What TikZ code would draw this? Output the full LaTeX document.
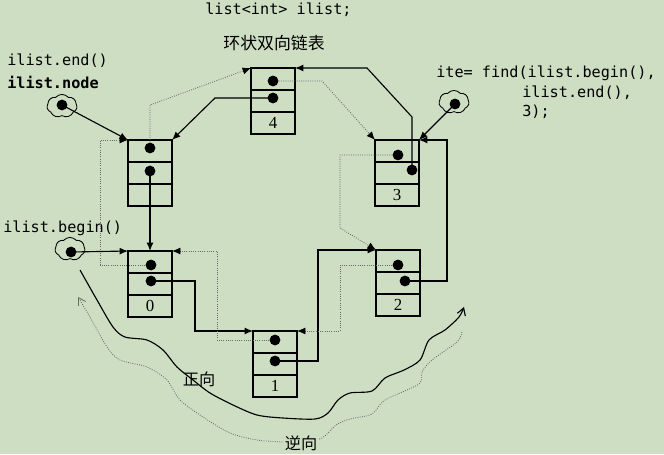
\documentclass[tikz,border=0pt]{standalone}
\usepackage{fontspec}
\setmainfont{Liberation Serif}
\setmonofont{DejaVu Sans Mono}
\newfontfamily\cjk{Noto Sans CJK SC}
\usepackage{xcolor}
\definecolor{lnbg}{RGB}{206,222,195}
\definecolor{lngray}{RGB}{105,105,105}
\usepackage{tikz}
\usetikzlibrary{arrows.meta, positioning, shapes.symbols}

\tikzset{
  cell/.style={draw, line width=0.8pt, minimum width=1.1cm, minimum height=0.55cm,
               inner sep=0pt, outer sep=0pt, font=\fontsize{12}{12}\selectfont},
  ptrdot/.style={circle, fill=black, inner sep=0pt, minimum size=0.27cm},
  ptrcloud/.style={cloud, draw, cloud puffs=7, cloud puff arc=100, aspect=1.3,
                   minimum width=0.75cm, minimum height=0.58cm, inner sep=0pt,
                   line width=0.6pt},
  nextptr/.style={line width=0.8pt, -{Latex[length=6pt,width=5pt]}},
  prevptr/.style={lngray, densely dotted, line width=0.6pt,
                  -{Latex[length=6pt,width=5pt,color=black,fill=black]}},
  codetxt/.style={font=\fontsize{10.8}{13}\ttfamily, anchor=west, inner sep=0pt},
  cjktxt/.style={font=\fontsize{12}{14}\cjk, inner sep=1pt}
}

\begin{document}
\begin{tikzpicture}[x=0.025cm, y=-0.025cm]
  \useasboundingbox (0,0) rectangle (664,454);
  \fill[lnbg] (0,0) rectangle (664,454);

  % Header
  \node[codetxt] (decl) at (205,10) {list<int> ilist;};
  \node[cjktxt] (title) at (274,43) {环状双向链表};

  % Iterator texts
  \node[codetxt] (endtxt) at (7,61) {ilist.end()};
  \node[codetxt, font=\fontsize{10.8}{13}\ttfamily\bfseries] (nodetxt) at (7,82) {ilist.node};
  \node[codetxt] (begtxt) at (3,228) {ilist.begin()};
  \node[codetxt] (findtxt) at (436,73) {ite= find(ilist.begin(),};
  \node[codetxt] (findtxtb) at (522,93) {ilist.end(),};
  \node[codetxt] (findtxtc) at (522,112) {3);};

  % Blank node (end)
  \node[cell, anchor=north west] (ea) at (128,140) {};
  \node[cell, below=0pt of ea] (eb) {};
  \node[cell, below=0pt of eb] (ec) {};

  % Node 4
  \node[cell, anchor=north west] (n4a) at (251,68) {};
  \node[cell, below=0pt of n4a] (n4b) {};
  \node[cell, below=0pt of n4b] (n4c) {4};

  % Node 3
  \node[cell, anchor=north west] (n3a) at (375,140) {};
  \node[cell, below=0pt of n3a] (n3b) {};
  \node[cell, below=0pt of n3b] (n3c) {3};

  % Node 0
  \node[cell, anchor=north west] (n0a) at (128,251) {};
  \node[cell, below=0pt of n0a] (n0b) {};
  \node[cell, below=0pt of n0b] (n0c) {0};

  % Node 1
  \node[cell, anchor=north west] (n1a) at (253,331) {};
  \node[cell, below=0pt of n1a] (n1b) {};
  \node[cell, below=0pt of n1b] (n1c) {1};

  % Node 2
  \node[cell, anchor=north west] (n2a) at (376,250) {};
  \node[cell, below=0pt of n2a] (n2b) {};
  \node[cell, below=0pt of n2b] (n2c) {2};

  % Pointer dots
  \node[ptrdot] (ed1) at (150,148) {};
  \node[ptrdot] (ed2) at (150,171) {};
  \node[ptrdot] (n4d1) at (273,81) {};
  \node[ptrdot] (n4d2) at (273,98) {};
  \node[ptrdot] (n3d1) at (398,155) {};
  \node[ptrdot] (n3d2) at (412,170) {};
  \node[ptrdot] (n0d1) at (151,265) {};
  \node[ptrdot] (n0d2) at (151,281) {};
  \node[ptrdot] (n1d1) at (275,340) {};
  \node[ptrdot] (n1d2) at (275,361) {};
  \node[ptrdot] (n2d1) at (398,265) {};
  \node[ptrdot] (n2d2) at (405,281) {};

  % Next pointers
  \draw[nextptr] (ed2.center) -- (ed2.center |- n0a.north);
  \draw[nextptr] (n0d2.center) -- (195,281) |- (n1a.north west);
  \draw[nextptr] (n1d2.center) -- (318,361) |- (n2a.north west);
  \draw[nextptr] (n2d2.center) -- (447,281) |- (n3a.north east);
  \draw[nextptr] (n3d2.center) -- (412,117) -- (367,68) -- (n4a.north east);
  \draw[nextptr] (n4d2.center) -- (215,98) -- (ea.north east);

  % Prev pointers
  \draw[prevptr] (ed1) -- (150,105) -- (n4a.north west);
  \draw[prevptr] (n4d1) -- (322,81) -- (n3a.north west);
  \draw[prevptr] (n3d1) -- (340,155) -- (340,228) -- (n2a.north west);
  \draw[prevptr] (n2d1) -- (340,265) |- (n1a.north east);
  \draw[prevptr] (n1d1) -- (217,340) |- (n0a.north east);
  \draw[prevptr] (n0d1) -- (100,265) |- (ea.north west);

  % Iterator clouds
  \node[ptrcloud] (cend) at (62,106) {};
  \node[ptrdot] (cendd) at (62,105) {};
  \node[ptrcloud] (cbeg) at (70,249) {};
  \node[ptrdot] (cbegd) at (71,252) {};
  \node[ptrcloud] (cite) at (454,102) {};
  \node[ptrdot] (cited) at (455,104) {};
  \draw[nextptr] (cendd.center) -- (ea.north west);
  \draw[nextptr] (cbegd.center) -- (n0a.north west);
  \draw[nextptr] (cited.center) -- (n3a.north east);

  % Traversal directions
  \draw[line width=0.8pt, -{Straight Barb[length=5pt,width=6pt]}]
       plot[smooth, tension=0.5] coordinates {(80,270) (97,300) (113,327) (125,337)
       (147,340) (163,350) (177,367) (193,380) (210,393) (233,405) (257,415) (283,418)
       (315,419) (328,413) (338,400) (350,393) (372,391) (385,378) (404,370) (420,360)
       (429,340) (445,330) (459,317) (464,307)};
  \draw[lngray, densely dotted, line width=0.6pt, -{Straight Barb[length=5pt,width=6pt]}]
       plot[smooth, tension=0.5] coordinates {(462,332) (457,342) (432,360) (422,372)
       (419,384) (385,400) (372,414) (350,419) (336,425) (322,438) (301,443) (283,442)
       (257,440) (230,433) (203,417) (180,400) (167,380) (147,367) (120,360) (107,347)
       (90,317) (78,297)};
  \node[cjktxt, font=\fontsize{11.5}{13}\cjk] (fwd) at (199,379) {正向};
  \node[cjktxt, font=\fontsize{11.5}{13}\cjk, fill=lnbg] (bwd) at (301,443) {逆向};
\end{tikzpicture}
\end{document}
